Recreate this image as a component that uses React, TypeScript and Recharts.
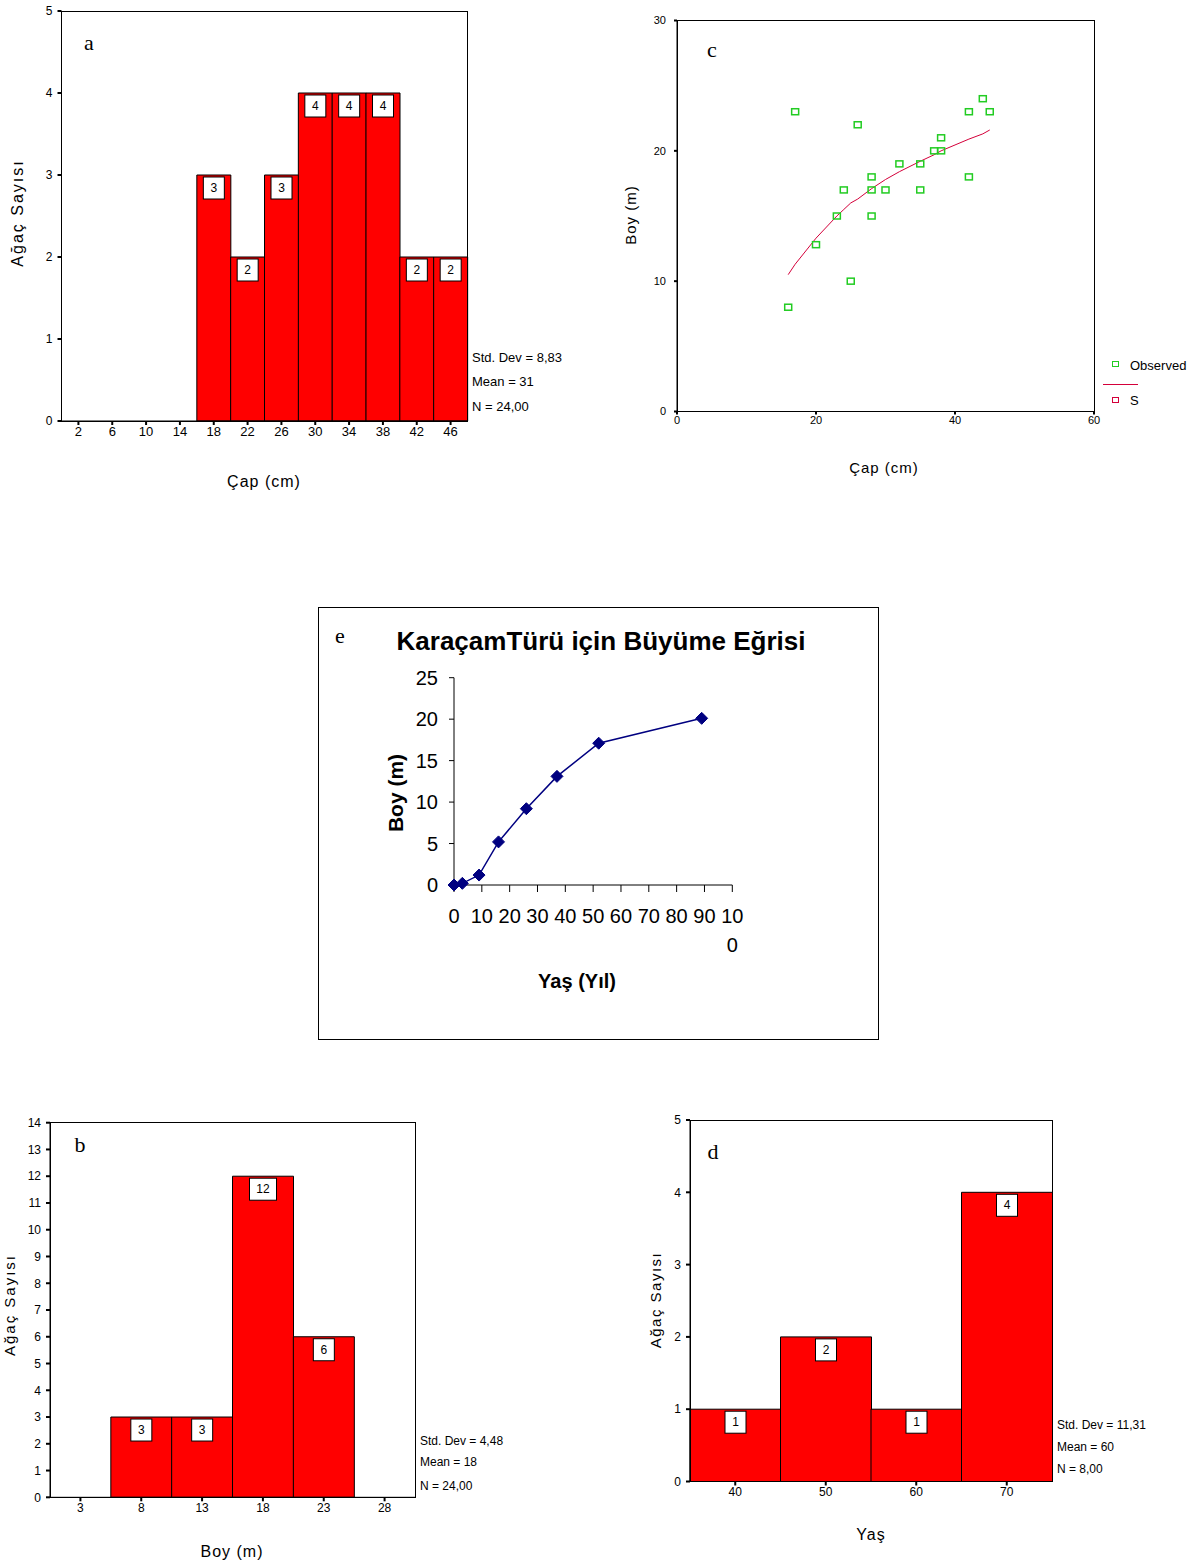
import React from "react";
import {
  BarChart,
  Bar,
  XAxis,
  YAxis,
  LabelList,
  ScatterChart,
  Scatter,
  LineChart,
  Line,
} from "recharts";

// a: diameter histogram
const capBins = ["2", "6", "10", "14", "18", "22", "26", "30", "34", "38", "42", "46"];
const capCounts = [0, 0, 0, 0, 3, 2, 3, 4, 4, 4, 2, 2];
const capTicks = [0, 1, 2, 3, 4, 5];

// b: height histogram
const boyBins = ["3", "8", "13", "18", "23", "28"];
const boyCounts = [0, 3, 3, 12, 6, 0];
const boyTicks = [0, 1, 2, 3, 4, 5, 6, 7, 8, 9, 10, 11, 12, 13, 14];

// d: age histogram
const yasBins = ["40", "50", "60", "70"];
const yasCounts = [1, 2, 1, 4];
const yasTicks = [0, 1, 2, 3, 4, 5];

// c: diameter vs height
const obsCap = [17, 26, 44, 42, 45, 38, 37, 38, 32, 35, 28, 42, 24, 28, 30, 35, 23, 28, 20, 25, 16];
const obsBoy = [23, 22, 24, 23, 23, 21, 20, 20, 19, 19, 18, 18, 17, 17, 17, 17, 15, 15, 12.8, 10, 8];
const fitCap = [16, 17, 20, 23, 24, 25, 26, 28, 30, 32, 35, 37, 38, 42, 44, 45];
const fitBoy = [10.5, 11.3, 13.3, 15.0, 15.5, 16.0, 16.3, 17.1, 17.8, 18.4, 19.2, 19.7, 20.0, 20.9, 21.3, 21.6];
const cTicksX = [0, 20, 40, 60];
const cTicksY = [0, 10, 20, 30];

// e: growth curve
const ageYears = [0, 3, 9, 16, 26, 37, 52, 89];
const ageHeight = [0, 0.2, 1.2, 5.2, 9.2, 13.1, 17.1, 20.1];
const eTicksX = [0, 10, 20, 30, 40, 50, 60, 70, 80, 90, 100];
const eTicksY = [0, 5, 10, 15, 20, 25];

const SANS = "'Liberation Sans', Arial, sans-serif";
const SERIF = "'Liberation Serif', 'Times New Roman', serif";

function Txt({ x, y, children, size = 12, rotate = false, bold = false, serif = false, spacing = 0, align = "center" }: any) {
  const tx = align === "left" ? "0" : "-50%";
  return (
    <div
      style={{
        position: "absolute",
        left: x,
        top: y,
        transform: `translate(${tx}, -50%)${rotate ? " rotate(-90deg)" : ""}`,
        fontFamily: serif ? SERIF : SANS,
        fontSize: size,
        fontWeight: bold ? 700 : 400,
        letterSpacing: spacing,
        whiteSpace: "nowrap",
        lineHeight: 1,
        color: "#000",
      }}
    >
      {children}
    </div>
  );
}

function Frame({ x, y, w, h }: any) {
  return (
    <div
      style={{
        position: "absolute",
        left: x,
        top: y,
        width: w,
        height: h,
        border: "1px solid #000",
        boxSizing: "border-box",
        pointerEvents: "none",
      }}
    />
  );
}

function CountBox(props: any) {
  const { x, y, width, value } = props;
  if (!value) return null;
  const bw = String(value).length > 1 ? 27 : 21;
  const cx = Number(x) + Number(width) / 2;
  const top = Number(y) + 2;
  return (
    <g>
      <rect x={cx - bw / 2} y={top} width={bw} height={22} fill="#fff" stroke="#000" strokeWidth={1} />
      <text x={cx} y={top + 11} textAnchor="middle" dominantBaseline="central" fontSize={12} fontFamily={SANS} fill="#000">
        {value}
      </text>
    </g>
  );
}

function Histogram({ left, top, width, height, margin, yw, xh, bins, counts, ticks, xFont = 12 }: any) {
  const data = bins.map((bin: string, i: number) => ({ bin, count: counts[i] }));
  return (
    <div style={{ position: "absolute", left, top }}>
      <BarChart width={width} height={height} data={data} margin={margin} barCategoryGap={0} barGap={0}>
        <XAxis
          dataKey="bin"
          interval={0}
          height={xh}
          tickSize={4}
          tickMargin={2}
          tick={{ fontSize: xFont, fill: "#000", fontFamily: SANS }}
          axisLine={{ stroke: "#000" }}
          tickLine={{ stroke: "#000", strokeWidth: 2 }}
        />
        <YAxis
          type="number"
          domain={[0, ticks[ticks.length - 1]]}
          ticks={ticks}
          interval={0}
          width={yw}
          tickSize={4}
          tickMargin={5}
          tick={{ fontSize: 12, fill: "#000", fontFamily: SANS }}
          axisLine={{ stroke: "#000" }}
          tickLine={{ stroke: "#000", strokeWidth: 2 }}
        />
        <Bar dataKey="count" fill="#ff0000" stroke="#000" strokeWidth={1} isAnimationActive={false}>
          <LabelList dataKey="count" content={CountBox} />
        </Bar>
      </BarChart>
    </div>
  );
}

function Square(props: any) {
  const { cx, cy } = props;
  return <rect x={cx - 3.5} y={cy - 3} width={7} height={6} fill="none" stroke="#22cc22" strokeWidth={1.5} />;
}

function Diamond(props: any) {
  const { cx, cy, index } = props;
  const r = 6;
  return (
    <polygon
      key={index}
      points={`${cx},${cy - r} ${cx + r},${cy} ${cx},${cy + r} ${cx - r},${cy}`}
      fill="#000080"
      stroke="#000080"
    />
  );
}

function AgeTick(props: any) {
  const { x, y, payload } = props;
  const v = String(payload.value);
  const style = { fontSize: 20, fontFamily: SANS, fill: "#000" };
  if (v.length > 2) {
    return (
      <g>
        <text x={x} y={y + 31} textAnchor="middle" {...style}>{v.slice(0, 2)}</text>
        <text x={x} y={y + 60} textAnchor="middle" {...style}>{v.slice(2)}</text>
      </g>
    );
  }
  return (
    <text x={x} y={y + 31} textAnchor="middle" {...style}>{v}</text>
  );
}

export default function App() {
  const observed = obsCap.map((x, i) => ({ x, y: obsBoy[i] }));
  const fitted = fitCap.map((x, i) => ({ x, y: fitBoy[i] }));
  const growth = ageYears.map((x, i) => ({ x, y: ageHeight[i] }));

  return (
    <div style={{ position: "absolute", left: 0, top: 0, width: 1202, height: 1564, background: "#fff", overflow: "hidden" }}>
      {/* a */}
      <Histogram
        left={0}
        top={0}
        width={600}
        height={500}
        margin={{ top: 11, right: 132.5, bottom: 0, left: 0 }}
        yw={61.5}
        xh={79}
        bins={capBins}
        counts={capCounts}
        ticks={capTicks}
        xFont={13}
      />
      <Frame x={61} y={11} w={407} h={411} />
      <Txt x={89} y={43} size={22} serif>a</Txt>
      <Txt x={18} y={213} size={16} spacing={2} rotate>Ağaç Sayısı</Txt>
      <Txt x={264} y={482} size={16} spacing={1}>Çap (cm)</Txt>
      <Txt x={472} y={357} size={13} align="left">Std. Dev = 8,83</Txt>
      <Txt x={472} y={381} size={13} align="left">Mean = 31</Txt>
      <Txt x={472} y={406} size={13} align="left">N = 24,00</Txt>

      {/* c */}
      <div style={{ position: "absolute", left: 600, top: 0 }}>
        <ScatterChart width={560} height={500} margin={{ top: 20.5, right: 66, bottom: 0, left: 0 }}>
          <XAxis
            type="number"
            dataKey="x"
            domain={[0, 60]}
            ticks={cTicksX}
            interval={0}
            height={88.5}
            tickSize={3}
            tickMargin={2}
            tick={{ fontSize: 11, fill: "#000", fontFamily: SANS }}
            axisLine={{ stroke: "#000" }}
            tickLine={{ stroke: "#000", strokeWidth: 2 }}
          />
          <YAxis
            type="number"
            dataKey="y"
            domain={[0, 30]}
            ticks={cTicksY}
            interval={0}
            width={77}
            tickSize={3}
            tickMargin={8}
            tick={{ fontSize: 11, fill: "#000", fontFamily: SANS }}
            axisLine={{ stroke: "#000" }}
            tickLine={{ stroke: "#000", strokeWidth: 2 }}
          />
          <Scatter
            data={fitted}
            line={{ stroke: "#d4003a", strokeWidth: 1 }}
            lineType="joint"
            shape={() => <g />}
            isAnimationActive={false}
          />
          <Scatter data={observed} shape={Square} isAnimationActive={false} />
        </ScatterChart>
      </div>
      <Frame x={677} y={20} w={418} h={392} />
      <Txt x={712} y={50} size={22} serif>c</Txt>
      <Txt x={630} y={215} size={15} spacing={1} rotate>Boy (m)</Txt>
      <Txt x={884} y={467} size={15} spacing={1}>Çap (cm)</Txt>
      <div style={{ position: "absolute", left: 1112, top: 361, width: 7, height: 6, border: "1.5px solid #22cc22", boxSizing: "border-box" }} />
      <Txt x={1130} y={365} size={13} align="left">Observed</Txt>
      <div style={{ position: "absolute", left: 1103, top: 384, width: 35, height: 1, background: "#d4003a" }} />
      <div style={{ position: "absolute", left: 1112, top: 397, width: 7, height: 6, border: "1.5px solid #d4003a", boxSizing: "border-box" }} />
      <Txt x={1130} y={400} size={13} align="left">S</Txt>

      {/* e */}
      <Frame x={318} y={607} w={561} h={433} />
      <Txt x={340} y={636} size={22} serif>e</Txt>
      <Txt x={601} y={641} size={26} bold>KaraçamTürü için Büyüme Eğrisi</Txt>
      <div style={{ position: "absolute", left: 354, top: 657 }}>
        <LineChart width={400} height={300} data={growth} margin={{ top: 20.7, right: 21.7, bottom: 0, left: 0 }}>
          <XAxis
            type="number"
            dataKey="x"
            domain={[0, 100]}
            ticks={eTicksX}
            interval={0}
            height={72}
            tickSize={7}
            tickMargin={0}
            tick={AgeTick}
            axisLine={{ stroke: "#000" }}
            tickLine={{ stroke: "#000" }}
          />
          <YAxis
            type="number"
            domain={[0, 25]}
            ticks={eTicksY}
            interval={0}
            width={100}
            tickSize={5}
            tickMargin={11}
            tick={{ fontSize: 20, fill: "#000", fontFamily: SANS }}
            axisLine={{ stroke: "#000" }}
            tickLine={{ stroke: "#000" }}
          />
          <Line type="linear" dataKey="y" stroke="#000080" strokeWidth={1.5} dot={Diamond} isAnimationActive={false} />
        </LineChart>
      </div>
      <Txt x={395} y={793} size={21} bold rotate>Boy (m)</Txt>
      <Txt x={577} y={981} size={20} bold>Yaş (Yıl)</Txt>

      {/* b */}
      <Histogram
        left={0}
        top={1100}
        width={560}
        height={464}
        margin={{ top: 22.7, right: 145, bottom: 0, left: 0 }}
        yw={50}
        xh={66.7}
        bins={boyBins}
        counts={boyCounts}
        ticks={boyTicks}
      />
      <Frame x={50} y={1122} w={366} h={376} />
      <Txt x={80} y={1145} size={22} serif>b</Txt>
      <Txt x={9} y={1305} size={15} spacing={2} rotate>Ağaç Sayısı</Txt>
      <Txt x={232} y={1552} size={16} spacing={1}>Boy (m)</Txt>
      <Txt x={420} y={1441} size={12} align="left">Std. Dev = 4,48</Txt>
      <Txt x={420} y={1462} size={12} align="left">Mean = 18</Txt>
      <Txt x={420} y={1486} size={12} align="left">N = 24,00</Txt>

      {/* d */}
      <Histogram
        left={620}
        top={1100}
        width={560}
        height={464}
        margin={{ top: 20, right: 128, bottom: 0, left: 0 }}
        yw={70}
        xh={82.5}
        bins={yasBins}
        counts={yasCounts}
        ticks={yasTicks}
      />
      <Frame x={690} y={1120} w={363} h={362} />
      <Txt x={713} y={1152} size={22} serif>d</Txt>
      <Txt x={655} y={1300} size={15} spacing={1.5} rotate>Ağaç Sayısı</Txt>
      <Txt x={871} y={1535} size={16} spacing={1}>Yaş</Txt>
      <Txt x={1057} y={1425} size={12} align="left">Std. Dev = 11,31</Txt>
      <Txt x={1057} y={1447} size={12} align="left">Mean = 60</Txt>
      <Txt x={1057} y={1469} size={12} align="left">N = 8,00</Txt>
    </div>
  );
}
